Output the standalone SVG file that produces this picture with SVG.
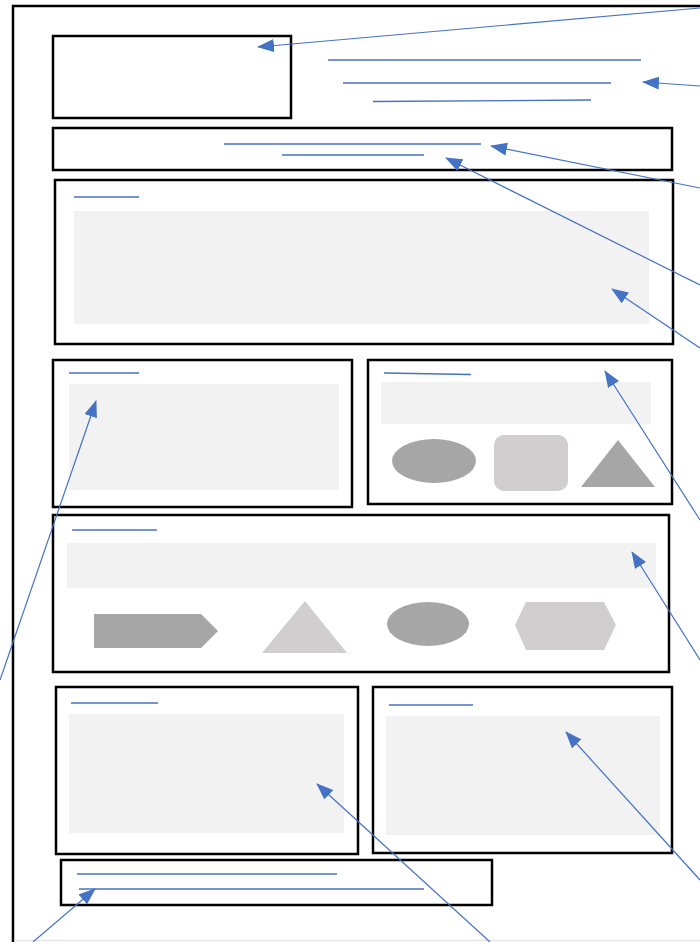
<svg xmlns="http://www.w3.org/2000/svg" width="700" height="942" viewBox="0 0 700 942">
<style>
.box{fill:#fff;stroke:#000;stroke-width:2.5}
.ln{stroke:#4472c4;stroke-width:1.3;fill:none}
.gray{fill:#f2f2f2}
.dk{fill:#a6a6a6}
.lt{fill:#d0cece}
.con{stroke:#4472c4;stroke-width:1.2;fill:none;marker-end:url(#ah)}
</style>
<defs>
<marker id="ah" markerUnits="userSpaceOnUse" markerWidth="17" markerHeight="13" refX="16" refY="6.5" orient="auto">
<path d="M0,0 L17,6.5 L0,13 z" fill="#4472c4"/>
</marker>
</defs>
<rect width="700" height="942" fill="#fff"/>
<g id="page">
<path d="M13,942 V6 H700" fill="none" stroke="#000" stroke-width="2.5"/>
<line x1="14" y1="940.5" x2="700" y2="940.5" stroke="#e6e6e6" stroke-width="1.5"/>
</g>
<g id="logo"><rect class="box" x="53" y="36" width="238" height="82"/></g>
<g id="title">
<line class="ln" x1="328" y1="60" x2="641" y2="60"/>
<line class="ln" x1="343" y1="83" x2="611" y2="83"/>
<line class="ln" x1="373" y1="101.5" x2="591" y2="100"/>
</g>
<g id="nav">
<rect class="box" x="53" y="128" width="619" height="42"/>
<line class="ln" x1="224" y1="144" x2="481" y2="144"/>
<line class="ln" x1="282" y1="155" x2="424" y2="155"/>
</g>
<g id="hero">
<rect class="box" x="55" y="180" width="618" height="164"/>
<line class="ln" x1="74" y1="197" x2="139" y2="197"/>
<rect class="gray" x="74" y="211" width="575" height="113"/>
</g>
<g id="panel-left">
<rect class="box" x="53" y="360" width="299" height="147"/>
<line class="ln" x1="69" y1="373" x2="139" y2="373"/>
<rect class="gray" x="69" y="384" width="270" height="106"/>
</g>
<g id="panel-right">
<rect class="box" x="368" y="360" width="304" height="144"/>
<line class="ln" x1="384" y1="373" x2="471" y2="374.5"/>
<rect class="gray" x="381" y="382" width="270" height="42"/>
<ellipse class="dk" cx="434" cy="461" rx="42" ry="22"/>
<rect class="lt" x="494" y="435" width="74" height="56" rx="10"/>
<polygon class="dk" points="618,440 655,487 581,487"/>
</g>
<g id="shapes-band">
<rect class="box" x="53" y="515" width="616" height="157"/>
<line class="ln" x1="72" y1="530" x2="157" y2="530"/>
<rect class="gray" x="67" y="543" width="589" height="45"/>
<polygon class="dk" points="94,614 201,614 218,631 201,648 94,648"/>
<polygon class="lt" points="305,601 347,653 262,653"/>
<ellipse class="dk" cx="428" cy="624" rx="41" ry="22"/>
<polygon class="lt" points="526,602 604,602 616,625 604,650 526,650 515,625"/>
</g>
<g id="bottom-left">
<rect class="box" x="56" y="687" width="302" height="167"/>
<line class="ln" x1="71" y1="703" x2="158" y2="703"/>
<rect class="gray" x="69" y="714" width="275" height="119"/>
</g>
<g id="bottom-right">
<rect class="box" x="373" y="687" width="299" height="166"/>
<line class="ln" x1="389" y1="705" x2="473" y2="705"/>
<rect class="gray" x="386" y="716" width="274" height="119"/>
</g>
<g id="footer">
<rect class="box" x="61" y="860" width="431" height="45"/>
<line class="ln" x1="77" y1="874" x2="337" y2="874"/>
<line class="ln" x1="79" y1="889" x2="424" y2="889"/>
</g>
<g id="connectors">
<line class="con" x1="700" y1="8" x2="258" y2="47"/>
<line class="con" x1="700" y1="86" x2="643" y2="82"/>
<line class="con" x1="700" y1="188" x2="491" y2="146"/>
<line class="con" x1="700" y1="285" x2="446" y2="158"/>
<line class="con" x1="700" y1="348" x2="612" y2="289"/>
<line class="con" x1="0" y1="680" x2="96" y2="401"/>
<line class="con" x1="700" y1="520" x2="605" y2="371"/>
<line class="con" x1="700" y1="660" x2="632" y2="552"/>
<line class="con" x1="490" y1="942" x2="317" y2="784"/>
<line class="con" x1="700" y1="880" x2="566" y2="732"/>
<line class="con" x1="33" y1="942" x2="95" y2="889"/>
</g>
</svg>
